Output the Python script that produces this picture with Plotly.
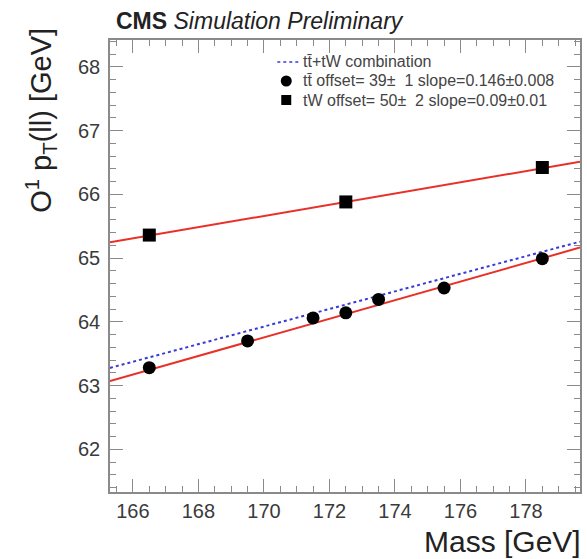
import plotly.graph_objects as go

# Data
tt_mass = [166.5, 169.5, 171.5, 172.5, 173.5, 175.5, 178.5]
tt_val = [63.28, 63.70, 64.06, 64.14, 64.35, 64.53, 64.99]
tw_mass = [166.5, 172.5, 178.5]
tw_val = [65.36, 65.88, 66.42]

# Fit lines: value at reference mass 172.5 and slope
fit_ref = 172.5
tt_fit = (64.12, 0.146)
tw_fit = (65.88, 0.088)
comb_fit = (64.27, 0.138)

x_range = [165.3, 179.65]
y_range = [61.33, 68.42]

legend_labels = [
    "tt̄+tW combination",
    "tt̄ offset= 39±  1 slope=0.146±0.008",
    "tW offset= 50±  2 slope=0.09±0.01",
]


def line(fit):
    c, s = fit
    return [c + s * (x - fit_ref) for x in x_range]


FONT = "Liberation Sans, Arial"

fig = go.Figure()
fig.add_trace(go.Scatter(x=x_range, y=line(comb_fit), mode="lines",
                         line=dict(color="#3a3ad8", width=2, dash="dot"),
                         showlegend=False))
fig.add_trace(go.Scatter(x=x_range, y=line(tt_fit), mode="lines",
                         line=dict(color="#e83028", width=2), showlegend=False))
fig.add_trace(go.Scatter(x=x_range, y=line(tw_fit), mode="lines",
                         line=dict(color="#e83028", width=2), showlegend=False))
fig.add_trace(go.Scatter(x=tt_mass, y=tt_val, mode="markers",
                         marker=dict(symbol="circle", size=13, color="black"),
                         showlegend=False))
fig.add_trace(go.Scatter(x=tw_mass, y=tw_val, mode="markers",
                         marker=dict(symbol="square", size=13, color="black"),
                         showlegend=False))

axis_common = dict(
    showgrid=False, zeroline=False, showline=True, linecolor="#8a8a8a",
    linewidth=1.5, mirror="ticks", ticks="inside", tickcolor="#8a8a8a",
    ticklen=13, tickwidth=1.2,
    tickfont=dict(family=FONT, size=20, color="#3a3a3a"),
)
fig.update_xaxes(range=x_range, dtick=2, tick0=166, ticklabelstandoff=0,
                 minor=dict(ticks="inside", dtick=0.5, ticklen=6,
                            tickcolor="#8a8a8a"),
                 **axis_common)
fig.update_yaxes(range=y_range, dtick=1, tick0=62, ticklabelstandoff=4,
                 minor=dict(ticks="inside", dtick=0.2, ticklen=6,
                            tickcolor="#8a8a8a"),
                 **axis_common)

W, H = 587, 559
ml, mr, mt, mb = 110, 5, 40, 67
pw, ph = W - ml - mr, H - mt - mb


def px(x):
    return (x - ml) / pw


def py(y):
    return 1 - (y - mt) / ph


lx_sym = 287
lys = [62, 81, 100]
fig.add_shape(type="line", xref="paper", yref="paper",
              x0=px(278), x1=px(301), y0=py(lys[0]), y1=py(lys[0]),
              line=dict(color="#3a3ad8", width=1.5, dash="dot"))
fig.add_trace(go.Scatter(x=[px(lx_sym)], y=[py(lys[1])], xaxis="x2", yaxis="y2",
                         mode="markers",
                         marker=dict(symbol="circle", size=11, color="black"),
                         showlegend=False))
fig.add_trace(go.Scatter(x=[px(lx_sym)], y=[py(lys[2])], xaxis="x2", yaxis="y2",
                         mode="markers",
                         marker=dict(symbol="square", size=10, color="black"),
                         showlegend=False))
fig.update_layout(
    xaxis2=dict(overlaying="x", range=[0, 1], visible=False),
    yaxis2=dict(overlaying="y", range=[0, 1], visible=False),
)
for i, t in enumerate(legend_labels):
    fig.add_annotation(xref="paper", yref="paper", x=px(302), y=py(lys[i]),
                       text=t, showarrow=False, xanchor="left", yanchor="middle",
                       font=dict(family=FONT, size=16, color="#444444"))

fig.add_annotation(xref="paper", yref="paper", x=px(114), y=py(21),
                   text="<b>CMS</b> <i>Simulation Preliminary</i>",
                   showarrow=False, xanchor="left", yanchor="middle",
                   font=dict(family=FONT, size=23, color="#222222"))
fig.add_annotation(xref="paper", yref="paper", x=px(585), y=py(541),
                   text="Mass [GeV]", showarrow=False, xanchor="right",
                   yanchor="middle",
                   font=dict(family=FONT, size=30, color="#222222"))
fig.add_annotation(xref="paper", yref="paper", x=px(40), y=py(26),
                   text="O<sup>1</sup> p<sub>T</sub>(ll) [GeV]", textangle=-90,
                   showarrow=False, xanchor="center", yanchor="top",
                   font=dict(family=FONT, size=29, color="#222222"))

fig.update_layout(width=W, height=H, margin=dict(l=ml, r=mr, t=mt, b=mb),
                  plot_bgcolor="white", paper_bgcolor="white")

fig.write_html("out.html", config={"displayModeBar": False},
               post_script="document.body.style.margin='0';"
                           "document.body.style.overflow='hidden';")
